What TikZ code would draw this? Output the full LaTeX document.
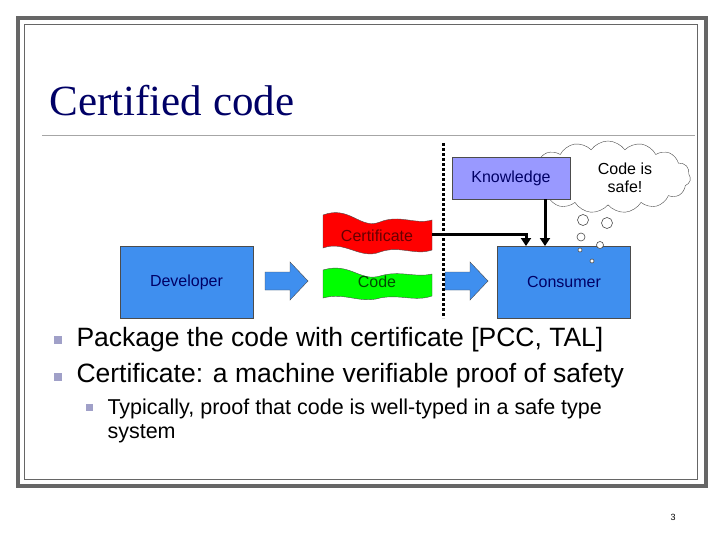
\documentclass[tikz,border=0pt]{standalone}
\usepackage{fontspec}
\setmainfont{Liberation Sans}
\newfontfamily\titlefont{Liberation Serif}
\usetikzlibrary{shapes.symbols,arrows.meta}
\definecolor{boxblue}{HTML}{3F8FEF}
\definecolor{lav}{HTML}{9999FF}
\definecolor{navy}{HTML}{000066}
\definecolor{bul}{HTML}{A0A0C8}
\tikzset{
 bluebox/.style={draw=black!70,fill=boxblue,minimum width=133pt,minimum height=72pt,font=\fontsize{16}{18}\selectfont,text=navy},
 blockarrow/.style={draw=black!70,fill=boxblue},
 conn/.style={line width=3pt,-{Triangle[length=8pt,width=10pt]}},
 bubble/.style={draw=black!70,fill=white,line width=0.6pt},
 btext/.style={anchor=west,font=\fontsize{26.5}{30}\selectfont,text=black},
}
\begin{document}
\begin{tikzpicture}[x=1pt,y=-1pt]
\useasboundingbox (0,0) rectangle (720,540);
\fill[white] (0,0) rectangle (720,540);
\draw[line width=4.5pt,black!60] (18,18) rectangle (706,486);
\draw[line width=0.8pt,black!60] (24,24) rectangle (697,479);
\node[anchor=west,font=\titlefont\fontsize{43}{46}\selectfont,text=navy] (title) at (46,101) {Certified code};
\draw[black!35,line width=1pt] (42,136) -- (695,136);
% cloud
\node[cloud,cloud puffs=15,cloud puff arc=110,aspect=2.4,draw=black!70,fill=white,minimum width=165pt,minimum height=72pt] (cloud) at (608,177) {};
\node[align=center,font=\fontsize{16}{18}\selectfont] (safe) at (625,178) {Code is\\safe!};
\node[draw=black!70,fill=lav,minimum width=118pt,minimum height=42pt,font=\fontsize{16}{18}\selectfont,text=navy] (know) at (511,178) {Knowledge};
% boxes
\node[bluebox] (dev) at (186.5,282) {Developer};
\node[bluebox] (cons) at (564,282) {Consumer};
% bubbles
\draw[bubble] (583,220) circle (5.5);
\draw[bubble] (607,223) circle (5.5);
\draw[bubble] (581,237) circle (4);
\draw[bubble] (600,245) circle (3.5);
\draw[bubble] (580,250) circle (2);
\draw[bubble] (592,261) circle (2);
\draw[blockarrow] (265,272) -- (290,272) -- (290,262) -- (308,281) -- (290,300) -- (290,290) -- (265,290) -- cycle;
\draw[blockarrow] (445,272) -- (470,272) -- (470,262) -- (488,281) -- (470,300) -- (470,290) -- (445,290) -- cycle;
% flags
\draw[draw=black!70,fill=red] (323,215) .. controls (350,205) and (360,230) .. (380,222) .. controls (400,214) and (415,225) .. (432,220) -- (432,250) .. controls (415,256) and (400,245) .. (380,252) .. controls (360,260) and (345,240) .. (323,248) -- cycle;
\node[font=\fontsize{16}{18}\selectfont,text=black!60!red] (cert) at (377,236) {Certificate};
\draw[draw=black!70,fill=green] (323,270) .. controls (350,262) and (360,282) .. (380,276) .. controls (400,270) and (415,278) .. (432,274) -- (432,296) .. controls (415,302) and (400,294) .. (380,298) .. controls (360,304) and (345,292) .. (323,298) -- cycle;
\node[font=\fontsize{16}{18}\selectfont,text=black!70!green] (code) at (377,282) {Code};
% dotted line
\draw[line width=3pt,dash pattern=on 3pt off 2pt] (443,143) -- (443,318);
% connectors
\coordinate (c1) at (432,234);
\coordinate (c2) at (526,234);
\draw[conn] (c1) -- (c2) -- (526,246);
\draw[conn] (know.south -| 545,0) -- (545,246);
% bullets
\fill[bul] (54,336) rectangle (62,344);
\fill[bul] (54,373) rectangle (62,381);
\fill[bul] (86,404) rectangle (93,411);
\node[btext] (b1) at (73,340) {Package the code with certificate [PCC, TAL]};
\node[btext] (b2) at (73,376) {Certificate: a machine verifiable proof of safety};
\node[anchor=north west,align=left,font=\fontsize{21.5}{24}\selectfont] (b3) at (104,395) {Typically, proof that code is well-typed in a safe type\\system};
\node[font=\fontsize{9}{10}\selectfont] (pg) at (673,517) {3};
\end{tikzpicture}
\end{document}
